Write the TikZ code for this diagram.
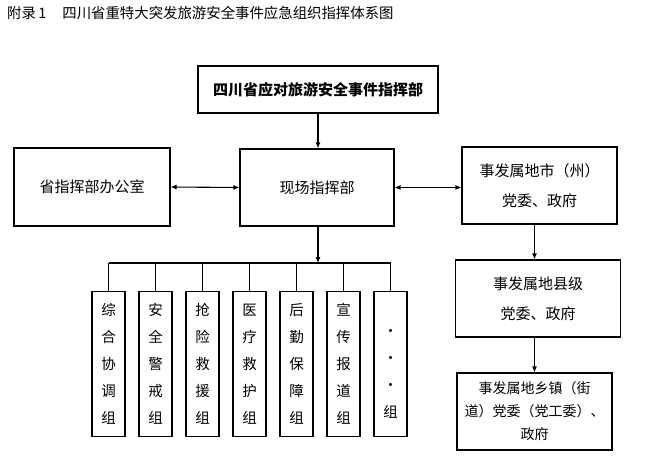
\documentclass[tikz,border=0pt]{standalone}
\usepackage{fontspec}
\setmainfont{Noto Sans CJK SC}
\usetikzlibrary{positioning,arrows.meta}

\tikzset{
    box/.style={draw, line width=1.1pt, align=center, inner sep=1pt,
        font=\fontsize{15}{30}\selectfont},
    groupbox/.style={box, minimum width=33pt, minimum height=145pt,
        font=\fontsize{14.5}{27}\selectfont},
    link/.style={line width=1.1pt},
    arr/.style={link, -{Latex[length=6pt,width=5pt]}},
    both/.style={link, {Latex[length=6pt,width=5pt]}-{Latex[length=6pt,width=5pt]}}
}

\begin{document}
\begin{tikzpicture}[x=1pt,y=-1pt]
    \useasboundingbox (0,0) rectangle (651,467);

    % Title
    \node[anchor=west, inner sep=0pt, font=\fontsize{14.4}{16}\selectfont] (title) at (7,13)
        {附录\,1\hspace{16pt}四川省重特大突发旅游安全事件应急组织指挥体系图};

    % Command boxes
    \node[box, minimum width=240pt, minimum height=47pt, font=\fontsize{15}{30}\selectfont\bfseries]
        (hq) at (318,89.5) {四川省应对旅游安全事件指挥部};
    \node[box, minimum width=154pt, minimum height=77pt] (site) at (317,187.5) {现场指挥部};
    \node[box, minimum width=156pt, minimum height=78pt] (office) at (92,187) {省指挥部办公室};

    % Local government chain
    \node[box, minimum width=155pt, minimum height=77pt] (city) at (539.5,185.5)
        {事发属地市（州）\\党委、政府};
    \node[box, minimum width=165pt, minimum height=77pt] (county) at (538,298.5)
        {事发属地县级\\党委、政府};
    \node[box, minimum width=155pt, minimum height=77pt, font=\fontsize{14}{23}\selectfont]
        (town) at (534.5,411.5) {事发属地乡镇（街\\道）党委（党工委）、\\政府};

    % Connectors
    \draw[arr] (hq.south) -- (hq.south |- site.north);
    \draw[both] (office.east) -- (site.west);
    \draw[both] (site.east) -- (site.east -| city.west);
    \draw[arr] (city.south -| town.north) -- (county.north -| town.north);
    \draw[arr] (county.south -| town.north) -- (town.north);

    % Working groups
    \coordinate (bus) at (318,263);
    \draw[arr] (site.south -| bus) -- (bus);
    \draw[link] (108.5,263) -- (390.5,263);
    \foreach \i/\txt in {0/综\\合\\协\\调\\组, 1/安\\全\\警\\戒\\组, 2/抢\\险\\救\\援\\组,
        3/医\\疗\\救\\护\\组, 4/后\\勤\\保\\障\\组, 5/宣\\传\\报\\道\\组, 6/\mbox{}\\·\\·\\·\\组} {
        \node[groupbox] (grp\i) at (108.5+47*\i,364) {\txt};
        \draw[link] (grp\i.north |- bus) -- (grp\i.north);
    }
\end{tikzpicture}
\end{document}
